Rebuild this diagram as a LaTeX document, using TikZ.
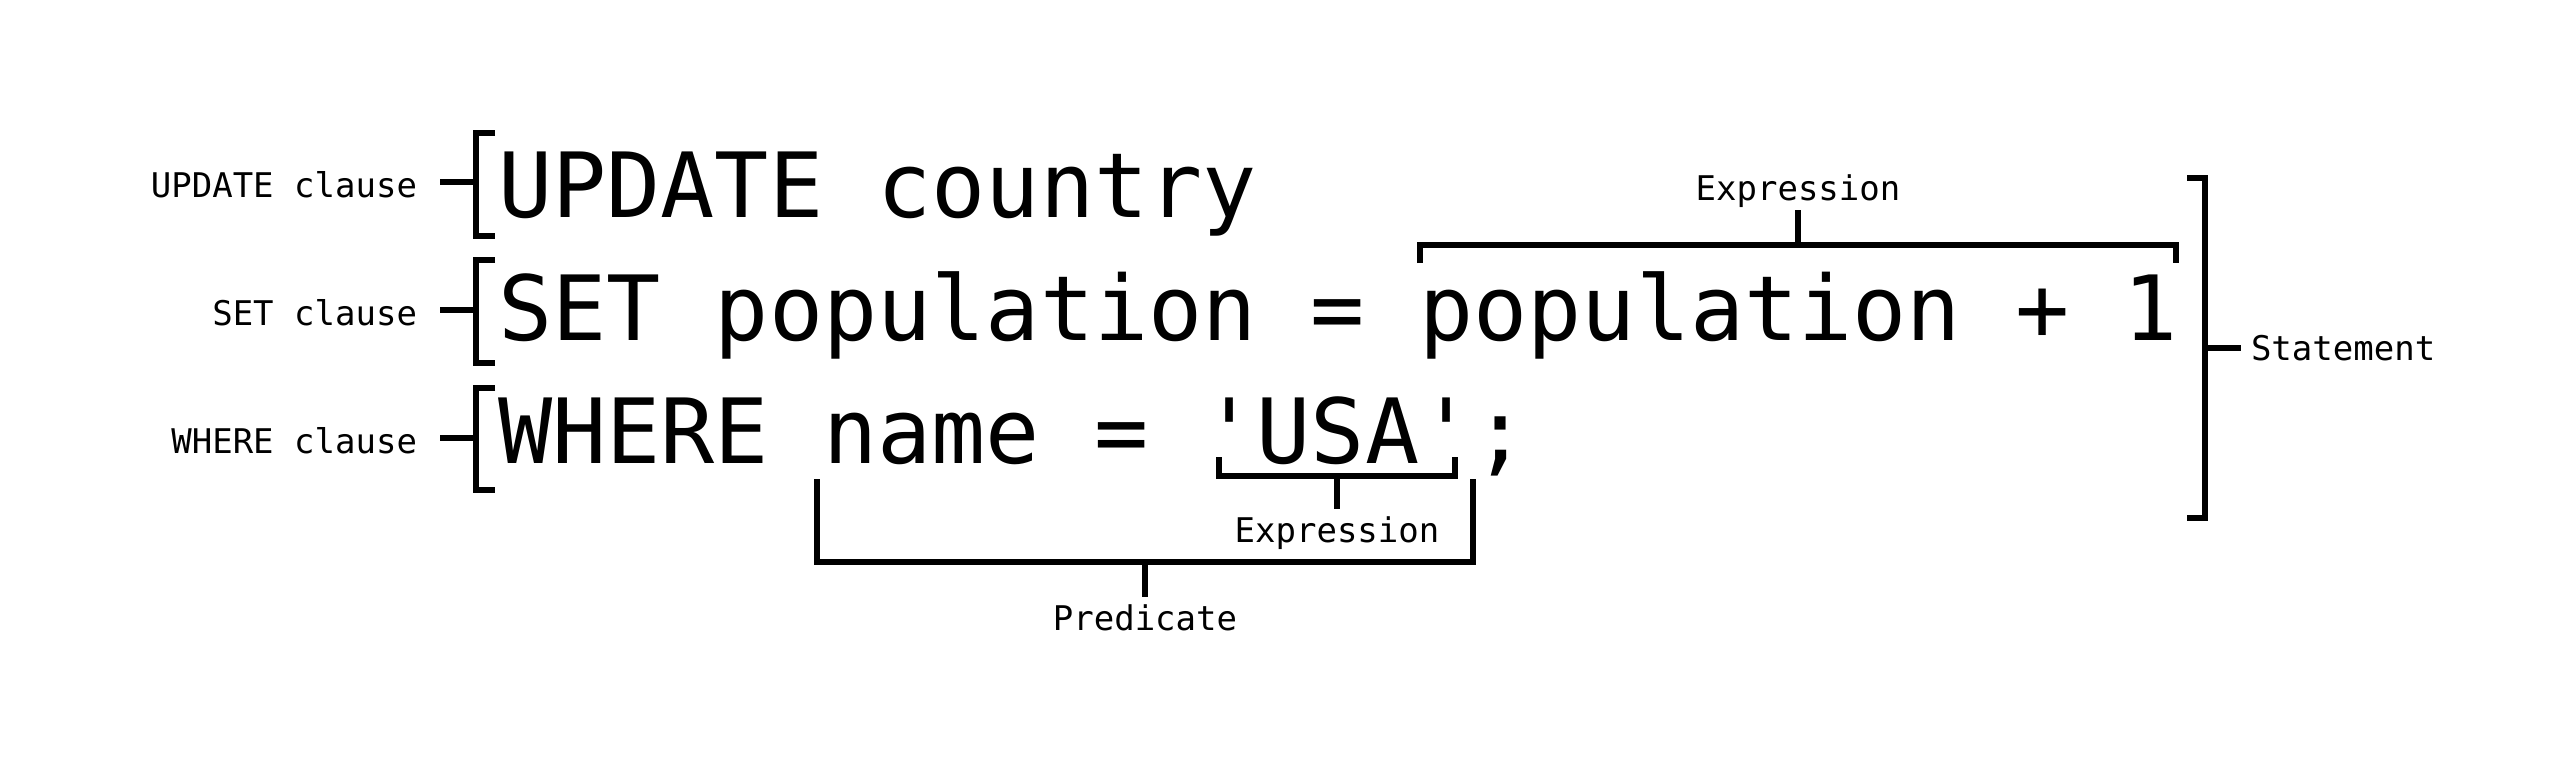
\documentclass[tikz,border=0pt]{standalone}
\usepackage{fontspec}
\newfontfamily\codefont{DejaVu Sans Mono}
\usetikzlibrary{calc}

\tikzset{
  code/.style={anchor=base west, inner sep=0pt, font=\codefont\fontsize{67.5}{70}\selectfont},
  lbl/.style={inner sep=0pt, font=\codefont\fontsize{25.5}{28}\selectfont},
  clause/.style={lbl, anchor=east, outer xsep=17.25pt, text height=22.5pt, text depth=0pt},
  brk/.style={line width=4pt}
}

\begin{document}
\begin{tikzpicture}[x=0.75pt,y=0.75pt,yscale=-1,xscale=1]
	\useasboundingbox (0,0) rectangle (2560,776);

	% code lines
	\node [code] (upd) at (498,217) {UPDATE country};
	\node [code] (set) at (498,340) {SET population = population + 1};
	\node [code] (where) at (498,463) {WHERE name = 'USA';};

	% clause brackets
	\draw [brk] (495,133) -| (476,236) -- (495,236);
	\draw [brk] (495,260) -| (476,363) -- (495,363);
	\draw [brk] (495,388) -| (476,490) -- (495,490);
	\coordinate (updbr) at (476,182);
	\coordinate (setbr) at (476,310);
	\coordinate (wherebr) at (476,438);
	\node [clause] (updlbl) at (440,182) {UPDATE clause};
	\node [clause] (setlbl) at (440,310) {SET clause};
	\node [clause] (wherelbl) at (440,438) {WHERE clause};
	\draw [brk] (updbr) -- (updlbl);
	\draw [brk] (setbr) -- (setlbl);
	\draw [brk] (wherebr) -- (wherelbl);

	% statement
	\draw [brk] (2187,178) -| (2205,518) -- (2187,518);
	\coordinate (stmtbr) at (2205,348);
	\node [lbl, anchor=west, outer xsep=7.5pt] (stmtlbl) at (2241,348) {Statement};
	\draw [brk] (stmtbr) -- (stmtlbl);

	% expression on the SET line
	\draw [brk] (1420,263) |- (2176,245) -- (2176,263);
	\coordinate (setexprbr) at (1798,245);
	\node [lbl, anchor=base, outer sep=2.25pt] (setexpr) at (1798,200) {Expression};
	\draw [brk] (setexprbr) -- (setexpr);

	% expression 'USA'
	\draw [brk] (1219,457) |- (1455,476) -- (1455,457);
	\coordinate (usabr) at (1337,476);
	\node [lbl, anchor=base, outer sep=5.25pt] (usaexpr) at (1337,542) {Expression};
	\draw [brk] (usabr) -- (usaexpr);

	% predicate
	\draw [brk] (817,479) |- (1473,562) -- (1473,479);
	\coordinate (predbr) at (1145,562);
	\node [lbl, anchor=base, outer sep=5.25pt] (predlbl) at (1145,630) {Predicate};
	\draw [brk] (predbr) -- (predlbl);
\end{tikzpicture}
\end{document}
